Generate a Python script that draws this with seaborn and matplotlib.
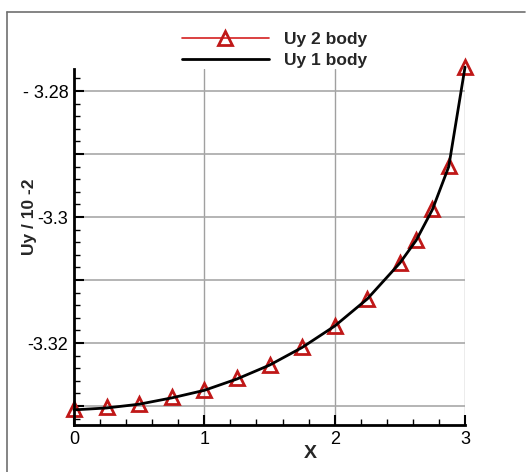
import numpy as np
import pandas as pd
import seaborn as sns
import matplotlib.pyplot as plt
from matplotlib.lines import Line2D
from matplotlib.ticker import MultipleLocator

# --------------------
# Data
# --------------------
x_2body = [0, 0.25, 0.5, 0.75, 1.0, 1.25, 1.5, 1.75, 2.0, 2.25, 2.5, 2.625, 2.75, 2.875, 3.0]
uy_2body = [-3.3305, -3.3302, -3.3297, -3.3286, -3.3275, -3.3256, -3.3235, -3.3207,
            -3.3173, -3.3130, -3.3073, -3.3037, -3.2987, -3.2919, -3.2762]

x_1body = [0, 0.25, 0.5, 0.75, 1.0, 1.25, 1.5, 1.75, 2.0, 2.25, 2.5, 2.625, 2.75,
           2.875, 3.0]
uy_1body = [-3.3306, -3.3303, -3.3297, -3.3287, -3.3275, -3.3257, -3.3235, -3.3207,
            -3.3173, -3.3130, -3.3073, -3.3037, -3.2988, -3.2920, -3.2762]

ytick_values = [-3.28, -3.29, -3.30, -3.31, -3.32, -3.33]
ytick_labels = ["- 3.28", "", "-3.3", "", "-3.32", ""]

df2 = pd.DataFrame({"X": x_2body, "Uy": uy_2body})
df1 = pd.DataFrame({"X": x_1body, "Uy": uy_1body})

# --------------------
# Plot
# --------------------
sns.set_style("white")
plt.rcParams["font.family"] = ["Liberation Sans", "DejaVu Sans"]

fig = plt.figure(figsize=(5.27, 4.72), dpi=100)
ax = fig.add_axes([0.1404, 0.0996, 0.742, 0.7542])

# grid
for gx in [1, 2, 3]:
    ax.axvline(gx, color="#a0a0a0", lw=1.0, zorder=0)
for gy in ytick_values:
    ax.axhline(gy, color="#a8a8a8", lw=1.2, zorder=0)

# red series sits under the black curve, only its symbols show
sns.lineplot(data=df2, x="X", y="Uy", ax=ax, color="#d42020", linestyle="",
             marker="^", markersize=10, markerfacecolor="none",
             markeredgecolor="#c01818", markeredgewidth=2.0, zorder=2, clip_on=False)
sns.lineplot(data=df1, x="X", y="Uy", ax=ax, color="black", lw=2.0, zorder=3, clip_on=False)

ax.set_xlim(0, 3)
ax.set_ylim(-3.333, -3.2765)

ax.xaxis.set_major_locator(MultipleLocator(1))
ax.xaxis.set_minor_locator(MultipleLocator(0.2))
ax.set_yticks(ytick_values)
ax.set_yticklabels(ytick_labels)
ax.yaxis.set_minor_locator(MultipleLocator(0.002))
ax.tick_params(axis="both", which="both", left=True, bottom=True, direction="in",
               colors="black")
ax.tick_params(axis="both", which="major", length=7, width=1.5, labelsize=13, pad=4)
ax.tick_params(axis="both", which="minor", length=4, width=1.0)

for side in ["top", "right"]:
    ax.spines[side].set_visible(False)
for side in ["left", "bottom"]:
    ax.spines[side].set_linewidth(2.0)
    ax.spines[side].set_color("black")

ax.set_xlabel("X", fontsize=14, fontweight="bold", labelpad=-2)
ax.xaxis.label.set_x(0.604)
ax.set_ylabel("Uy / 10 -2", fontsize=12.5, fontweight="bold", labelpad=-10.5)
ax.yaxis.label.set_y(0.584)

# legend above axes
handles = [
    Line2D([], [], color="#d42020", lw=1.2, marker="^", markersize=10,
           markerfacecolor="none", markeredgecolor="#c01818", markeredgewidth=2.0),
    Line2D([], [], color="black", lw=2.0),
]
fig.legend(handles, ["Uy 2 body", "Uy 1 body"], loc="center",
           bbox_to_anchor=(0.521, 0.894), frameon=False, handlelength=5.0,
           handletextpad=0.9, labelspacing=0.3,
           prop={"weight": "bold", "size": 12.5, "family": ["Liberation Sans"]})

# outer frame (top and left edges)
fig.add_artist(Line2D([7 / 527, 7 / 527], [0, 1 - 12 / 472], color="#707070", lw=1.2,
                      transform=fig.transFigure))
fig.add_artist(Line2D([7 / 527, 525 / 527], [1 - 12 / 472, 1 - 12 / 472], color="#707070",
                      lw=1.2, transform=fig.transFigure))

fig.savefig("out.png", dpi=100)
